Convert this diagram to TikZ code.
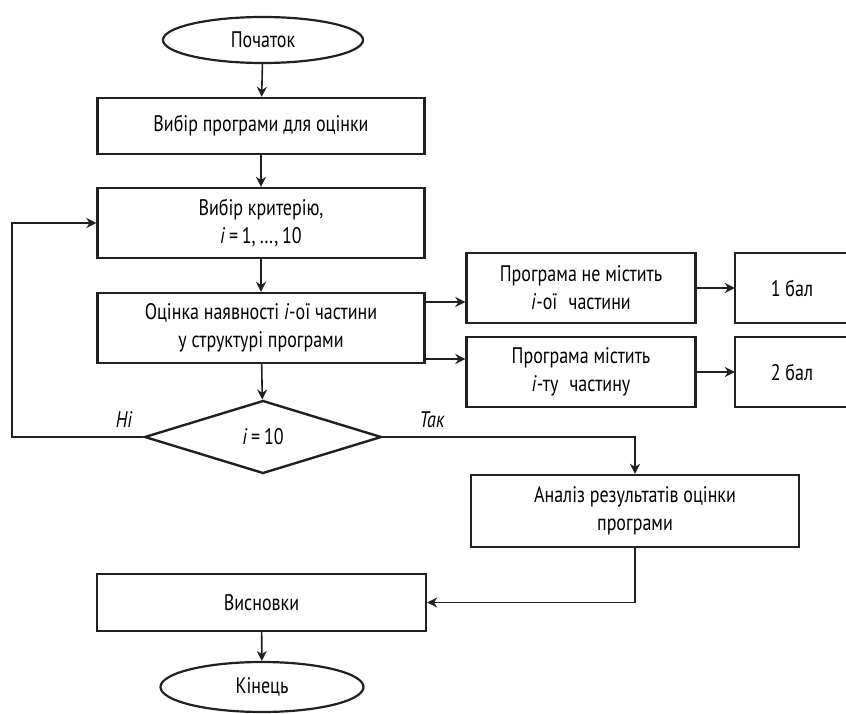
\documentclass[tikz,border=0pt]{standalone}
\usepackage{fontspec}
\setmainfont{PT Sans}[FakeStretch=0.8]
\usetikzlibrary{shapes.geometric,arrows.meta}
\definecolor{ink}{HTML}{231F20}
\tikzset{
  x=1pt, y=-1pt,
  txt/.style={font=\fontsize{22.5}{28}\selectfont},
  box/.style={txt, draw=ink, line width=2.4pt, rectangle, inner sep=0pt, align=center},
  term/.style={txt, draw=ink, line width=2.2pt, ellipse, inner sep=0pt, minimum width=200pt, minimum height=46pt},
  cond/.style={txt, draw=ink, line width=2.4pt, diamond, inner sep=0pt, minimum width=237pt, minimum height=73pt},
  plain/.style={txt, inner sep=0pt, align=center},
  edgeline/.style={draw=ink, line width=2.4pt, line join=miter},
  arr/.style={draw=ink, line width=1.6pt, -{Stealth[length=10pt,width=10pt]}},
  lbl/.style={inner sep=0pt, font=\fontsize{22.5}{28}\selectfont\itshape},
}
\newcommand{\iv}{\textit{i}}
\begin{document}
\begin{tikzpicture}
\useasboundingbox (0,0) rectangle (846,714);

% main column
\node[term] (start) at (263,40) {Початок};
\node[box, minimum width=327pt, minimum height=56pt] (pick) at (261,126) {Вибір програми для оцінки};
\node[box, minimum width=327pt, minimum height=70pt] (crit) at (261,223) {Вибір критерію,\\ \iv\,=\,1,\,…,\,10};
\node[box, minimum width=327pt, minimum height=70pt] (eval) at (261,328) {Оцінка наявності \iv-ої частини\\ у структурі програми};
\node[cond] (test) at (263,437) {\iv\,=\,10};

% branch boxes
\node[box, minimum width=229pt, minimum height=70pt] (nopart) at (581,288) {Програма не містить\\ \iv-ої\enspace частини};
\node[box, minimum width=229pt, minimum height=70pt] (haspart) at (581,372) {Програма містить\\ \iv-ту\enspace частину};
\node[plain, minimum width=114pt, minimum height=70pt] (one) at (792,288) {1 бал};
\node[plain, minimum width=114pt, minimum height=70pt] (two) at (792,372) {2 бал};
\draw[edgeline] (one.north east) -- (one.north west) -- (one.south west) -- (one.south east);
\draw[edgeline] (two.north east) -- (two.north west) -- (two.south west) -- (two.south east);

% results and end
\node[box, minimum width=328pt, minimum height=72pt] (anal) at (635,511) {Аналіз результатів оцінки\\ програми};
\node[box, minimum width=329pt, minimum height=57pt] (concl) at (261.5,602.5) {Висновки};
\node[term, minimum width=203pt, minimum height=50pt] (stop) at (262,687) {Кінець};

\coordinate (loop) at (12,437);

% connectors
\draw[arr] (start) -- (pick);
\draw[arr] (pick) -- (crit);
\draw[arr] (crit) -- (eval);
\draw[arr] (eval) -- (test);
\draw[arr] ([yshift=26pt]eval.east) -- ([yshift=26pt]eval.east -| nopart.west);
\draw[arr] ([yshift=-31pt]eval.east) -- ([yshift=-31pt]eval.east -| haspart.west);
\draw[arr] (nopart.east) -- (one.west);
\draw[arr] (haspart.east) -- (two.west);
\draw[arr] (test.west) -- (loop) |- (crit.west);
\draw[arr] (test.east) -| (anal.north);
\draw[arr] (anal.south) |- (concl.east);
\draw[arr] (concl) -- (stop);

% branch labels
\node[lbl] (no) at (124,420) {Ні};
\node[lbl] (yes) at (432,420) {Так};
\end{tikzpicture}
\end{document}
